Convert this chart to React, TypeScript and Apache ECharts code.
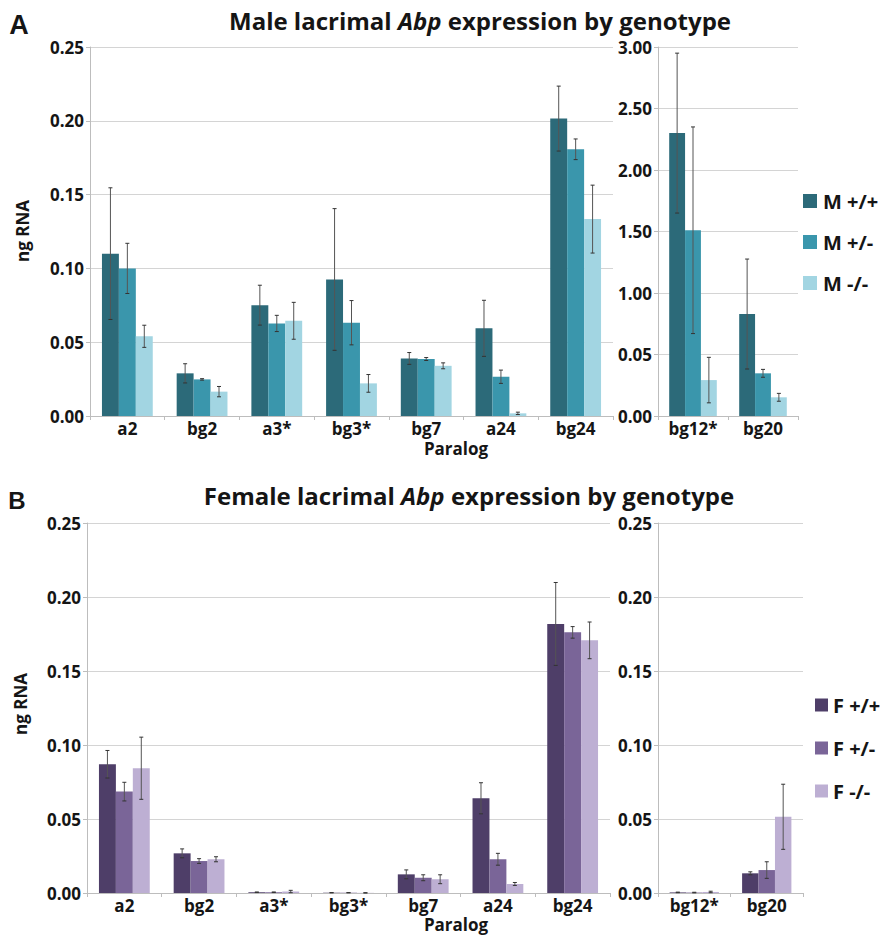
import React, { useEffect, useRef } from "react";
import * as echarts from "echarts";

const leftCats = ["a2", "bg2", "a3*", "bg3*", "bg7", "a24", "bg24"];
const rightCats = ["bg12*", "bg20"];
const maleNames = ["M +/+", "M +/-", "M -/-"];
const femaleNames = ["F +/+", "F +/-", "F -/-"];
const maleColors = ["#2c6a79", "#3a96ac", "#a2d5e2"];
const femaleColors = ["#4e3e68", "#7a6598", "#bdafd3"];

const maleLeftWT = [0.110, 0.0289, 0.0751, 0.0925, 0.0390, 0.0594, 0.2015];
const maleLeftWTErr = [0.0446, 0.0065, 0.0135, 0.048, 0.004, 0.019, 0.022];
const maleLeftHet = [0.100, 0.0248, 0.0627, 0.0632, 0.0386, 0.0266, 0.1807];
const maleLeftHetErr = [0.017, 0.0005, 0.0055, 0.015, 0.001, 0.0045, 0.007];
const maleLeftKO = [0.054, 0.0165, 0.0645, 0.0221, 0.034, 0.0018, 0.1334];
const maleLeftKOErr = [0.0075, 0.0035, 0.0125, 0.006, 0.002, 0.0008, 0.023];

const maleRightWT = [2.30, 0.829];
const maleRightWTErr = [0.65, 0.447];
const maleRightHet = [1.51, 0.347];
const maleRightHetErr = [0.84, 0.032];
const maleRightKO = [0.292, 0.152];
const maleRightKOErr = [0.185, 0.032];

const femaleLeftWT = [0.087, 0.0268, 0.0005, 0.0002, 0.0126, 0.064, 0.1818];
const femaleLeftWTErr = [0.0093, 0.003, 0.0002, 0.0001, 0.003, 0.0105, 0.028];
const femaleLeftHet = [0.0685, 0.0216, 0.0005, 0.0002, 0.0103, 0.0228, 0.1761];
const femaleLeftHetErr = [0.0063, 0.0016, 0.0002, 0.0001, 0.002, 0.004, 0.0039];
const femaleLeftKO = [0.0843, 0.0228, 0.001, 0.0001, 0.0093, 0.0061, 0.1707];
const femaleLeftKOErr = [0.021, 0.0017, 0.0008, 0.0001, 0.003, 0.001, 0.0124];

const femaleRightWT = [0.0004, 0.0133];
const femaleRightWTErr = [0.0002, 0.001];
const femaleRightHet = [0.0003, 0.0155];
const femaleRightHetErr = [0.0002, 0.0056];
const femaleRightKO = [0.0007, 0.0515];
const femaleRightKOErr = [0.0005, 0.022];

const maleRightTickLabels = ["0.00", "0.05", "1.00", "1.50", "2.00", "2.50", "3.00"];

const GAP = 0.32;
const FONT = "Open Sans";
const TXT = "#151515";

function errRender(k: number) {
  return (params: any, api: any) => {
    const idx = api.value(0);
    const mean = api.value(1);
    const err = api.value(2);
    const band = api.size([1, 0])[0];
    const bw = (band * (1 - GAP)) / 3;
    const c = api.coord([idx, mean]);
    const x = c[0] + (k - 1) * bw;
    const top = api.coord([idx, mean + err])[1];
    const bot = api.coord([idx, Math.max(0, mean - err)])[1];
    const cap = 2;
    const capStyle = { stroke: "#333", lineWidth: 1 };
    return {
      type: "group",
      children: [
        { type: "line", shape: { x1: x, y1: top, x2: x, y2: bot }, style: { stroke: "#555", lineWidth: 1 } },
        { type: "line", shape: { x1: x - cap, y1: top, x2: x + cap, y2: top }, style: capStyle },
        { type: "line", shape: { x1: x - cap, y1: bot, x2: x + cap, y2: bot }, style: capStyle },
      ],
    };
  };
}

function panelSeries(
  names: string[],
  colors: string[],
  means: number[][],
  errs: number[][],
  axisIdx: number
) {
  const out: any[] = [];
  names.forEach((n, k) => {
    out.push({
      name: n,
      type: "bar",
      xAxisIndex: axisIdx,
      yAxisIndex: axisIdx,
      data: means[k],
      itemStyle: { color: colors[k] },
      barGap: "0%",
      barCategoryGap: GAP * 100 + "%",
    });
  });
  names.forEach((n, k) => {
    out.push({
      name: n + " err",
      type: "custom",
      xAxisIndex: axisIdx,
      yAxisIndex: axisIdx,
      renderItem: errRender(k),
      data: means[k].map((m, i) => [i, m, errs[k][i]]),
      z: 5,
      silent: true,
    });
  });
  return out;
}

function xAxisOpt(cats: string[], grid: number) {
  return {
    type: "category",
    gridIndex: grid,
    data: cats,
    axisLine: { show: true, lineStyle: { color: "#bdbdbd", width: 1 } },
    axisTick: { show: true, length: 4, lineStyle: { color: "#bdbdbd" } },
    axisLabel: { color: TXT, fontFamily: FONT, fontWeight: "bold", fontSize: 17, margin: 4 },
  };
}

function yAxisOpt(grid: number, max: number, interval: number, fmt: (v: number) => string) {
  return {
    type: "value",
    gridIndex: grid,
    min: 0,
    max,
    interval,
    axisLine: { show: true, lineStyle: { color: "#bdbdbd", width: 1 } },
    axisTick: { show: true, length: 4, lineStyle: { color: "#bdbdbd" } },
    splitLine: { show: true, lineStyle: { color: "#d4d4d4", width: 1 } },
    axisLabel: { color: TXT, fontFamily: FONT, fontWeight: "bold", fontSize: 17, margin: 6, formatter: fmt },
  };
}

function titleText(x: number, y: number, pre: string, post: string) {
  return {
    type: "text",
    x,
    y,
    style: {
      text: "{a|" + pre + "}{b|Abp}{a|" + post + "}",
      align: "center",
      verticalAlign: "middle",
      rich: {
        a: { fontFamily: FONT, fontWeight: "bold", fontSize: 24, fill: TXT },
        b: { fontFamily: FONT, fontWeight: "bold", fontStyle: "italic", fontSize: 24, fill: TXT },
      },
    },
  };
}

function plainText(x: number, y: number, text: string, size: number, rot = 0, family = FONT) {
  return {
    type: "text",
    x,
    y,
    rotation: rot,
    style: {
      text,
      align: "center",
      verticalAlign: "middle",
      fontFamily: family,
      fontWeight: "bold",
      fontSize: size,
      fill: TXT,
    },
  };
}

export default function App() {
  const ref = useRef<HTMLDivElement>(null);
  useEffect(() => {
    if (!ref.current) return;
    const chart = echarts.init(ref.current, undefined, { renderer: "svg" });
    const fmt2 = (v: number) => v.toFixed(2);
    const fmtMaleRight = (v: number) => maleRightTickLabels[Math.round(v / 0.5)];
    const option: any = {
      animation: false,
      backgroundColor: "#ffffff",
      grid: [
        { left: 90, top: 47, width: 523, height: 369 },
        { left: 658, top: 47, width: 140, height: 369 },
        { left: 87, top: 523, width: 523, height: 370 },
        { left: 658, top: 523, width: 145, height: 370 },
      ],
      xAxis: [
        xAxisOpt(leftCats, 0),
        xAxisOpt(rightCats, 1),
        xAxisOpt(leftCats, 2),
        xAxisOpt(rightCats, 3),
      ],
      yAxis: [
        yAxisOpt(0, 0.25, 0.05, fmt2),
        yAxisOpt(1, 3, 0.5, fmtMaleRight),
        yAxisOpt(2, 0.25, 0.05, fmt2),
        yAxisOpt(3, 0.25, 0.05, fmt2),
      ],
      legend: [
        {
          data: maleNames,
          orient: "vertical",
          left: 803,
          top: 191,
          padding: 0,
          itemWidth: 14,
          itemHeight: 14,
          itemGap: 21,
          icon: "rect",
          textStyle: { color: TXT, fontFamily: FONT, fontWeight: "bold", fontSize: 20, lineHeight: 14, padding: [0, 0, 0, 1] },
          selectedMode: false,
        },
        {
          data: femaleNames,
          orient: "vertical",
          left: 815,
          top: 695,
          padding: 0,
          itemWidth: 13,
          itemHeight: 13,
          itemGap: 23,
          icon: "rect",
          textStyle: { color: TXT, fontFamily: FONT, fontWeight: "bold", fontSize: 20, lineHeight: 13 },
          selectedMode: false,
        },
      ],
      graphic: [
        plainText(19, 25, "A", 27, 0, "Liberation Sans"),
        plainText(17, 500, "B", 24, 0, "Liberation Sans"),
        titleText(480, 20, "Male lacrimal ", " expression by genotype"),
        titleText(469, 495, "Female lacrimal ", " expression by genotype"),
        plainText(22, 231, "ng RNA", 17, Math.PI / 2),
        plainText(20, 704, "ng RNA", 17, Math.PI / 2),
        plainText(456, 448, "Paralog", 17),
        plainText(456, 924, "Paralog", 17),
      ],
      series: [
        ...panelSeries(
          maleNames,
          maleColors,
          [maleLeftWT, maleLeftHet, maleLeftKO],
          [maleLeftWTErr, maleLeftHetErr, maleLeftKOErr],
          0
        ),
        ...panelSeries(
          maleNames,
          maleColors,
          [maleRightWT, maleRightHet, maleRightKO],
          [maleRightWTErr, maleRightHetErr, maleRightKOErr],
          1
        ),
        ...panelSeries(
          femaleNames,
          femaleColors,
          [femaleLeftWT, femaleLeftHet, femaleLeftKO],
          [femaleLeftWTErr, femaleLeftHetErr, femaleLeftKOErr],
          2
        ),
        ...panelSeries(
          femaleNames,
          femaleColors,
          [femaleRightWT, femaleRightHet, femaleRightKO],
          [femaleRightWTErr, femaleRightHetErr, femaleRightKOErr],
          3
        ),
      ],
    };
    chart.setOption(option);
    return () => chart.dispose();
  }, []);
  return (
    <div
      ref={ref}
      style={{ position: "fixed", left: 0, top: 0, width: 886, height: 936, background: "#fff" }}
    />
  );
}
